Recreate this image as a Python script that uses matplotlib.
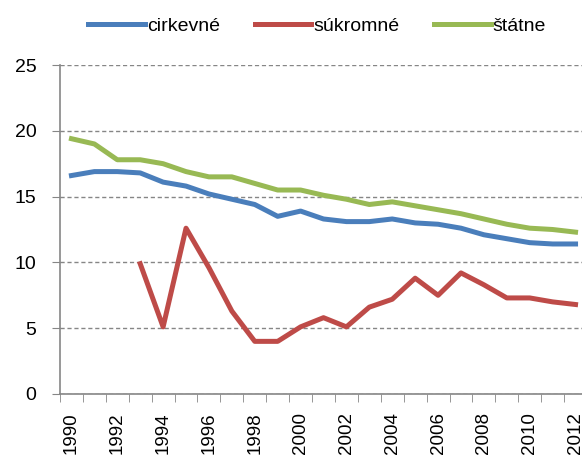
import matplotlib

matplotlib.use("Agg")
import matplotlib.pyplot as plt
import numpy as np

years = list(range(1990, 2013))
cirkevne = [16.6, 16.9, 16.9, 16.8, 16.1, 15.8, 15.2, 14.8, 14.4, 13.5, 13.9, 13.3,
            13.1, 13.1, 13.3, 13.0, 12.9, 12.6, 12.1, 11.8, 11.5, 11.4, 11.4]
sukromne = [np.nan, np.nan, np.nan, 9.9, 5.1, 12.6, 9.6, 6.3, 4.0, 4.0, 5.1, 5.8,
            5.1, 6.6, 7.2, 8.8, 7.5, 9.2, 8.3, 7.3, 7.3, 7.0, 6.8]
statne = [19.4, 19.0, 17.8, 17.8, 17.5, 16.9, 16.5, 16.5, 16.0, 15.5, 15.5, 15.1,
          14.8, 14.4, 14.6, 14.3, 14.0, 13.7, 13.3, 12.9, 12.6, 12.5, 12.3]
series_names = ["cirkevné", "súkromné", "štátne"]
colors = ["#4a7ebb", "#be4b48", "#98b954"]
y_ticks = [0, 5, 10, 15, 20, 25]

plt.rcParams["font.family"] = ["Liberation Sans", "DejaVu Sans"]

fig = plt.figure(figsize=(5.82, 4.55), dpi=100)
ax = fig.add_axes([60 / 582, 1 - 394 / 455, 527 / 582, 329 / 455])

x = np.arange(len(years))
for values, name, color in zip([cirkevne, sukromne, statne], series_names, colors):
    ax.plot(x, values, color=color, lw=3.6, label=name, solid_joinstyle="round")

ax.set_ylim(0, 25)
ax.set_yticks(y_ticks)
ax.set_xlim(-0.5, len(years) - 0.5)
ax.set_xticks(x[::2])
ax.set_xticklabels([str(y) for y in years[::2]], rotation=90)
ax.set_xticks(np.arange(-0.5, len(years)), minor=True)
ax.tick_params(axis="x", which="major", length=0, pad=13, labelsize=13.5)
ax.tick_params(axis="x", which="minor", length=6, color="#868686")
ax.tick_params(axis="y", length=6, color="#868686", labelsize=14, pad=11)

ax.grid(axis="y", linestyle=(0, (3, 2)), color="#868686", lw=1)
ax.set_axisbelow(True)
for side in ["top", "right"]:
    ax.spines[side].set_visible(False)
for side in ["left", "bottom"]:
    ax.spines[side].set_color("#868686")
    ax.spines[side].set_linewidth(1.2)

fig.legend(loc="upper center", bbox_to_anchor=(0.545, 1.0), ncol=3, frameon=False,
           fontsize=14, handlelength=2.9, handletextpad=0.1, columnspacing=1.8)

fig.savefig("out.png", dpi=100)
